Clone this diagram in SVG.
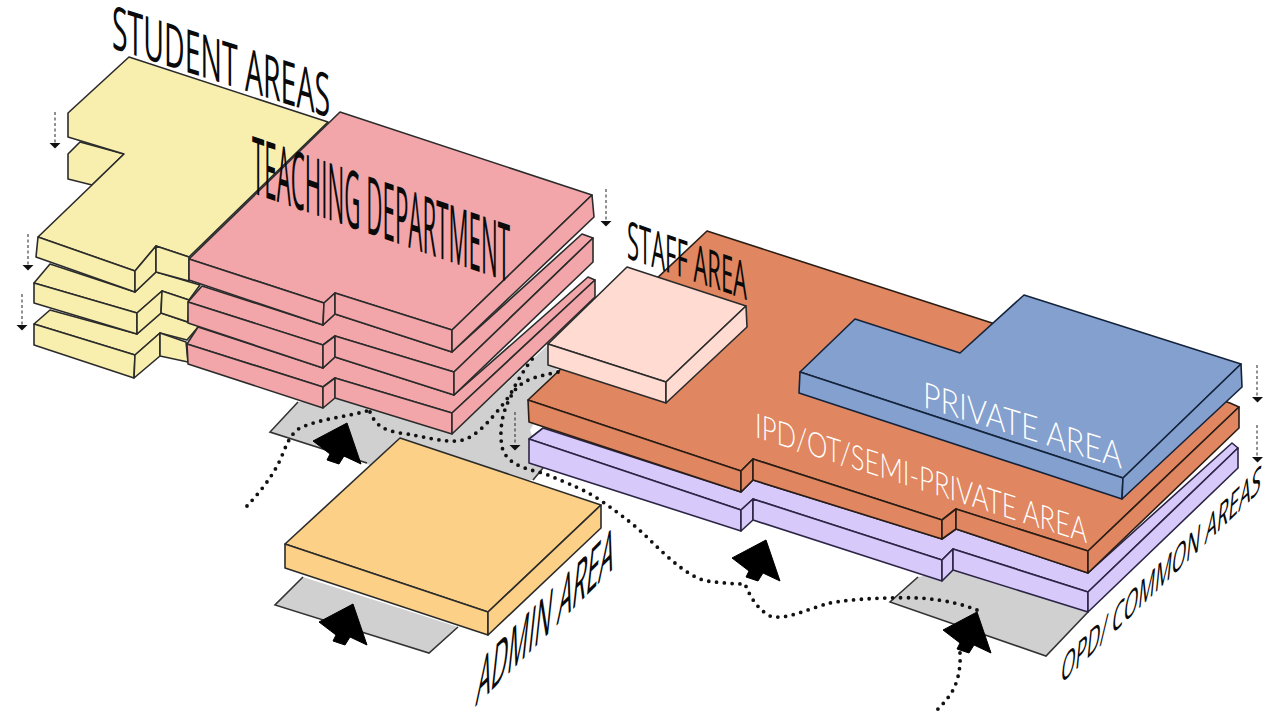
<svg xmlns="http://www.w3.org/2000/svg" width="1277" height="713" viewBox="0 0 1277 713">
<style>
.s{stroke:#2b2b2b;stroke-width:1.6;stroke-linejoin:round}
.y{fill:#f8efae}.p{fill:#f2a6a9}.o{fill:#e08660;stroke:#2a1d16}.b{fill:#84a0ce;stroke:#14233c}.v{fill:#d8c9fb;stroke:#2c2545}.f{fill:#ffdbd1}.a{fill:#fcd086}
.g{fill:#d0d0d0}
.e{fill:none;stroke:#333;stroke-width:1.6}
.dot{fill:none;stroke:#111;stroke-width:3.8;stroke-linecap:round;stroke-dasharray:0 7.8}
.dash{fill:none;stroke:#222;stroke-width:1;stroke-dasharray:3 2.5}
.t{font-family:"Open Sans","Liberation Sans",sans-serif;fill:#0a0a0a;font-size:50px;font-weight:400}
.w{font-family:"Lato","Open Sans",sans-serif;fill:#fff;font-size:36px;font-weight:300}
</style>
<defs>
<path id="big" d="M0 0L-34 18L-17 31L-20 37L-8 41L-3 33L14 41Z" fill="#000" stroke="#000" stroke-width="1"/>
<path id="tri" d="M-5.500 0H5.500L0 5.500Z" fill="#111"/>
</defs>
<g id="ground">
<path class="g" d="M298 402L270 432L400 475L533 480L543 468L530 430L560 380L548 345L452 434L335 398Z"/>
<path class="e" d="M298 402L270 432L367 463M533 480L543 468"/>
<path class="g" d="M303 577L275 605L429 653L458 627Z"/>
<path class="e" d="M303 577L275 605L429 653L458 627"/>
<path class="g" d="M918 577L890 602L1046 656L1088 612L953 570Z"/>
<path class="e" d="M918 577L890 602L1046 656L1088 612"/>
</g>
<g id="student-areas">
<path class="s y" d="M50 310L137 334L161 313L199 326L187 340L160 333L135 355L34 324Z"/>
<path class="s y" d="M34 324L135 355L134 378L34 345Z"/>
<path class="s y" d="M135 355L160 333L160 356L134 378Z"/>
<path class="s y" d="M160 333L186 342L188 362L160 356Z"/>
<path class="s y" d="M50 264L135 292L156 272L200 285L189 300L162 291L137 313L34 283Z"/>
<path class="s y" d="M34 283L137 313L137 334L34 303Z"/>
<path class="s y" d="M137 313L162 291L161 313L137 334Z"/>
<path class="s y" d="M162 291L189 300L188 322L161 313Z"/>
<path class="s y" d="M68 154L80 142L124 154L92 185L68 179Z"/>
<path class="s y" d="M129 57L328 122L189 257L156 246L135 271L38 237L92 185L124 154L68 137L68 113Z"/>
<path class="s y" d="M38 237L135 271L135 292L36 257Z"/>
<path class="s y" d="M135 271L156 246L156 272L135 292Z"/>
<path class="s y" d="M156 246L189 257L189 281L156 272Z"/>
</g>
<g id="teaching-department">
<path class="s p" d="M198 327L323 368L335 357L454 395L588 277L595 280L452 413L335 378L323 387L187 344Z"/>
<path class="s p" d="M187 344L323 387L323 408L188 364Z"/>
<path class="s p" d="M323 387L335 378L335 398L323 408Z"/>
<path class="s p" d="M335 378L452 413L452 434L335 398Z"/>
<path class="s p" d="M452 413L595 280L595 297L452 434Z"/>
<path class="s p" d="M202 286L323 325L335 314L452 352L582 234L593 238L454 372L335 336L323 345L188 302Z"/>
<path class="s p" d="M188 302L323 345L323 368L188 323Z"/>
<path class="s p" d="M323 345L335 336L335 357L323 368Z"/>
<path class="s p" d="M335 336L454 372L454 395L335 357Z"/>
<path class="s p" d="M454 372L593 238L593 262L454 395Z"/>
<path class="s p" d="M340 112L592 195L452 330L335 293L324 303L189 259Z"/>
<path class="s p" d="M189 259L324 303L323 325L189 280Z"/>
<path class="s p" d="M324 303L335 293L335 314L323 325Z"/>
<path class="s p" d="M335 293L452 330L452 352L335 314Z"/>
<path class="s p" d="M452 330L592 195L594 217L452 352Z"/>
</g>
<g id="opd-common-areas">
<path class="s v" d="M543 428L741 492L753 480L942 539L956 529L1088 573L1232 443L1238 448L1088 592L953 549L942 560L753 499L741 510L529 439Z"/>
<path class="s v" d="M529 439L741 510L741 531L529 463Z"/>
<path class="s v" d="M741 510L753 499L753 520L741 531Z"/>
<path class="s v" d="M753 499L942 560L942 581L753 520Z"/>
<path class="s v" d="M942 560L953 549L953 570L942 581Z"/>
<path class="s v" d="M953 549L1088 592L1088 612L953 570Z"/>
<path class="s v" d="M1088 592L1238 448L1238 468L1088 612Z"/>
</g>
<g id="ipd-ot-area">
<path class="s o" d="M707 231L992 323L1230 403L1239 407L1088 551L956 509L942 520L753 459L741 471L528 400Z"/>
<path class="s o" d="M528 400L741 471L741 492L529 422Z"/>
<path class="s o" d="M741 471L753 459L753 480L741 492Z"/>
<path class="s o" d="M753 459L942 520L942 539L753 480Z"/>
<path class="s o" d="M942 520L956 509L956 529L942 539Z"/>
<path class="s o" d="M956 509L1088 551L1088 573L956 529Z"/>
<path class="s o" d="M1088 551L1239 407L1239 428L1088 573Z"/>
</g>
<g id="private-area">
<path class="s b" d="M855 319L960 353L1024 295L1241 364L1123 478L800 372Z"/>
<path class="s b" d="M800 372L1123 478L1122 499L799 393Z"/>
<path class="s b" d="M1123 478L1241 364L1242 387L1122 499Z"/>
</g>
<g id="staff-area">
<path class="s f" d="M627 267L746 306L666 382L548 344Z"/>
<path class="s f" d="M548 344L666 382L666 403L548 365Z"/>
<path class="s f" d="M666 382L746 306L747 327L666 403Z"/>
</g>
<g id="admin-area">
<path class="s a" d="M400 438L601 505L488 612L285 544Z"/>
<path class="s a" d="M285 544L488 612L488 635L285 568Z"/>
<path class="s a" d="M488 612L601 505L601 528L488 635Z"/>
</g>
<g id="connectors">
<path class="dot" d="M247 506C260 492 273 476 281 458C286 446 290 434 300 428C322 418 348 417 370 410"/>
<path class="dot" d="M370 412C375 424 382 430 400 433C425 436 445 444 463 440C478 436 495 415 510 395C518 380 525 368 533 358"/>
<path class="dot" d="M558 372C540 376 525 378 515 390C502 408 499 430 502 447C506 462 520 468 543 473C570 484 585 490 600 500C620 514 635 525 650 540C668 558 690 578 707 581C722 583 735 584 745 584C750 596 756 608 770 616C785 621 810 608 830 603C850 599 890 597 920 598C945 600 962 604 977 610"/>
<path class="dot" d="M960 653C961 670 957 685 950 695C945 702 940 707 935 712"/>
<path class="dash" d="M55 112V144"/><use href="#tri" x="55" y="143"/>
<path class="dash" d="M28 234V266"/><use href="#tri" x="28" y="265"/>
<path class="dash" d="M22 294V326"/><use href="#tri" x="22" y="325"/>
<path class="dash" d="M606 189V221"/><use href="#tri" x="606" y="221"/>
<path class="dash" d="M515 412V445"/><use href="#tri" x="515" y="445"/>
<path class="dash" d="M1257 365V397"/><use href="#tri" x="1257.500" y="397"/>
<path class="dash" d="M1257 425V457"/><use href="#tri" x="1257.500" y="457"/>
<use href="#big" x="347" y="423"/>
<use href="#big" x="353" y="604"/>
<use href="#big" x="766" y="540"/>
<use href="#big" x="977" y="612"/>
</g>
<g id="labels">
<text class="t" transform="matrix(1,.32,0,1.2,112,48)" textLength="218" lengthAdjust="spacingAndGlyphs">STUDENT AREAS</text>
<text class="t" transform="matrix(1,.347,0,1.6,252,193)" textLength="258" lengthAdjust="spacingAndGlyphs">TEACHING DEPARTMENT</text>
<text class="t" transform="matrix(1,.35,0,1.05,627,258)" textLength="120" lengthAdjust="spacingAndGlyphs">STAFF AREA</text>
<text class="t" transform="matrix(1,-1,-.14,1.3,475,707)" textLength="137" lengthAdjust="spacingAndGlyphs">ADMIN AREA</text>
<text class="t" transform="matrix(1,-.97,-.08,.78,1060,685)" textLength="200" lengthAdjust="spacingAndGlyphs">OPD/ COMMON AREAS</text>
<text class="w" transform="matrix(1,.31,0,1,923,407)" textLength="199" lengthAdjust="spacingAndGlyphs">PRIVATE AREA</text>
<text class="w" transform="matrix(1,.32,0,.95,755,437)" textLength="332" lengthAdjust="spacingAndGlyphs">IPD/OT/SEMI-PRIVATE AREA</text>
</g>
</svg>
